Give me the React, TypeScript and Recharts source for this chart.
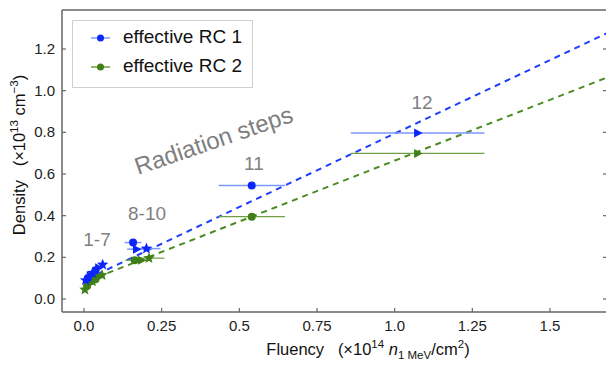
import React from "react";
import {
  ScatterChart,
  Scatter,
  XAxis,
  YAxis,
  ErrorBar,
  ReferenceLine,
  ReferenceDot,
} from "recharts";

// radiation steps 1..12
const steps = [1, 2, 3, 4, 5, 6, 7, 8, 9, 10, 11, 12];

// effective RC 1
const rc1Fluency = [0.005, 0.012, 0.02, 0.028, 0.037, 0.047, 0.06, 0.158, 0.169, 0.201, 0.54, 1.074];
const rc1Density = [0.09, 0.1, 0.112, 0.125, 0.138, 0.15, 0.165, 0.271, 0.239, 0.242, 0.545, 0.797];
const rc1FluencyErr = [0.003, 0.004, 0.005, 0.006, 0.007, 0.008, 0.01, 0.027, 0.03, 0.045, 0.107, 0.215];

// effective RC 2
const rc2Fluency = [0.003, 0.01, 0.018, 0.027, 0.037, 0.047, 0.058, 0.163, 0.185, 0.209, 0.54, 1.074];
const rc2Density = [0.045, 0.062, 0.073, 0.084, 0.095, 0.105, 0.115, 0.186, 0.186, 0.196, 0.395, 0.699];
const rc2FluencyErr = [0.003, 0.004, 0.005, 0.006, 0.007, 0.008, 0.01, 0.03, 0.03, 0.05, 0.107, 0.215];

// linear fits  density = intercept + slope * fluency
const fitSlope = [0.705, 0.584];
const fitIntercept = [0.089, 0.08];

const seriesNames = ["effective RC 1", "effective RC 2"];
const stepGroups = ["1-7", "8-10", "11", "12"];

const xTicks = [0, 0.25, 0.5, 0.75, 1, 1.25, 1.5];
const xTickLabels = ["0.0", "0.25", "0.5", "0.75", "1.0", "1.25", "1.5"];
const yTicks = [0, 0.2, 0.4, 0.6, 0.8, 1.0, 1.2];
const yTickLabels = ["0.0", "0.2", "0.4", "0.6", "0.8", "1.0", "1.2"];

const X_DOMAIN = [-0.0708, 1.6835];
const Y_DOMAIN = [-0.0624, 1.3872];

const FONT = "'Liberation Sans', Arial, Helvetica, sans-serif";
const FRAME = "#666";
const BLUE = "#0b26fa";
const BLUE_ERR = "#7e97ff";
const BLUE_FIT = "#1f3dff";
const GREEN = "#3f7f17";
const GREEN_ERR = "#6f9f45";
const GREEN_FIT = "#4b8b22";
const NOTE = "#7f7f7f";

const rc1 = steps.map((s, i) => ({ step: s, x: rc1Fluency[i], y: rc1Density[i], err: rc1FluencyErr[i] }));
const rc2 = steps.map((s, i) => ({ step: s, x: rc2Fluency[i], y: rc2Density[i], err: rc2FluencyErr[i] }));

const fitLine = (k: number) => {
  const x0 = 0.01;
  const x1 = X_DOMAIN[1];
  return [
    { x: x0, y: fitIntercept[k] + fitSlope[k] * x0 },
    { x: x1, y: fitIntercept[k] + fitSlope[k] * x1 },
  ];
};

const label = (ticks: number[], labels: string[], v: number) => labels[ticks.indexOf(v)] ?? String(v);

const BottomTick = (p: any) => (
  <g>
    <line x1={p.x} y1={p.y} x2={p.x} y2={p.y - 4} stroke={FRAME} strokeWidth={1.2} />
    <text x={p.x} y={p.y + 19} textAnchor="middle" fontSize={15} fontFamily={FONT} fill="#222">
      {label(xTicks, xTickLabels, p.payload.value)}
    </text>
  </g>
);
const TopTick = (p: any) => (
  <line x1={p.x} y1={p.y} x2={p.x} y2={p.y + 4} stroke={FRAME} strokeWidth={1.2} />
);
const LeftTick = (p: any) => (
  <g>
    <line x1={p.x} y1={p.y} x2={p.x + 4} y2={p.y} stroke={FRAME} strokeWidth={1.2} />
    <text x={p.x - 7} y={p.y + 5} textAnchor="end" fontSize={15} fontFamily={FONT} fill="#222">
      {label(yTicks, yTickLabels, p.payload.value)}
    </text>
  </g>
);
const RightTick = (p: any) => (
  <line x1={p.x} y1={p.y} x2={p.x - 4} y2={p.y} stroke={FRAME} strokeWidth={1.2} />
);

const starPath = (cx: number, cy: number, ro: number, ri: number) => {
  const pts: string[] = [];
  for (let i = 0; i < 10; i++) {
    const r = i % 2 === 0 ? ro : ri;
    const a = -Math.PI / 2 + (i * Math.PI) / 5;
    pts.push(`${cx + r * Math.cos(a)},${cy + r * Math.sin(a)}`);
  }
  return `M${pts.join("L")}Z`;
};

const marker = (color: string) => (p: any) => {
  const { cx, cy, payload } = p;
  const kind = (payload.step + 1) % 3;
  if (kind === 0) return <circle cx={cx} cy={cy} r={4} fill={color} />;
  if (kind === 1)
    return <path d={`M${cx - 3.5},${cy - 4.5}L${cx + 5},${cy}L${cx - 3.5},${cy + 4.5}Z`} fill={color} />;
  return <path d={starPath(cx, cy, 6, 2.6)} fill={color} />;
};

const note = (text: string, size: number, angle = 0) => (p: any) => (
  <text
    x={p.cx}
    y={p.cy}
    textAnchor="middle"
    fontSize={size}
    fontFamily={FONT}
    fill={NOTE}
    transform={angle ? `rotate(${angle} ${p.cx} ${p.cy})` : undefined}
  >
    {text}
  </text>
);

function LegendBox() {
  const rows = [
    { name: seriesNames[0], line: BLUE_ERR, dot: BLUE },
    { name: seriesNames[1], line: GREEN_ERR, dot: GREEN },
  ];
  return (
    <div
      style={{
        position: "absolute",
        left: 72,
        top: 20,
        width: 181,
        height: 68,
        border: "1px solid #cfcfcf",
        background: "#fff",
        boxSizing: "border-box",
      }}
    >
      {rows.map((r, i) => (
        <div key={r.name} style={{ position: "absolute", left: 0, top: 3 + i * 29, height: 28, width: 178 }}>
          <svg width={40} height={28} style={{ position: "absolute", left: 0, top: 0 }}>
            <line x1={18} y1={14} x2={37} y2={14} stroke={r.line} strokeWidth={1.5} />
            <circle cx={27.5} cy={14} r={3.5} fill={r.dot} />
          </svg>
          <span
            style={{
              position: "absolute",
              left: 50,
              top: 2,
              fontFamily: FONT,
              fontSize: 19,
              lineHeight: "22px",
              color: "#111",
              whiteSpace: "nowrap",
            }}
          >
            {r.name}
          </span>
        </div>
      ))}
    </div>
  );
}

export default function App() {
  return (
    <div style={{ position: "absolute", left: 0, top: 0, width: 606, height: 365, overflow: "hidden", background: "#fff" }}>
      <ScatterChart width={615} height={365} margin={{ top: 5, right: 3, bottom: 23, left: 22 }}>
        <XAxis
          xAxisId="b"
          type="number"
          dataKey="x"
          domain={X_DOMAIN}
          ticks={xTicks}
          allowDataOverflow
          height={30}
          tickSize={0}
          tickMargin={0}
          tickLine={false}
          tick={BottomTick}
          axisLine={{ stroke: FRAME, strokeWidth: 1.5 }}
        />
        <XAxis
          xAxisId="t"
          orientation="top"
          type="number"
          domain={X_DOMAIN}
          ticks={xTicks}
          allowDataOverflow
          height={5}
          tickSize={0}
          tickMargin={0}
          tickLine={false}
          tick={TopTick}
          axisLine={{ stroke: FRAME, strokeWidth: 1.5 }}
        />
        <YAxis
          yAxisId="l"
          type="number"
          dataKey="y"
          domain={Y_DOMAIN}
          ticks={yTicks}
          allowDataOverflow
          width={40}
          tickSize={0}
          tickMargin={0}
          tickLine={false}
          tick={LeftTick}
          axisLine={{ stroke: FRAME, strokeWidth: 1.5 }}
        />
        <YAxis
          yAxisId="r"
          orientation="right"
          type="number"
          domain={Y_DOMAIN}
          ticks={yTicks}
          allowDataOverflow
          width={5}
          tickSize={0}
          tickMargin={0}
          tickLine={false}
          tick={RightTick}
          axisLine={{ stroke: FRAME, strokeWidth: 1.5 }}
        />

        <ReferenceLine
          xAxisId="b"
          yAxisId="l"
          segment={fitLine(0)}
          stroke={BLUE_FIT}
          strokeWidth={2}
          strokeDasharray="6 5"
          ifOverflow="visible"
        />
        <ReferenceLine
          xAxisId="b"
          yAxisId="l"
          segment={fitLine(1)}
          stroke={GREEN_FIT}
          strokeWidth={2}
          strokeDasharray="6 5"
          ifOverflow="visible"
        />

        <Scatter name={seriesNames[1]} data={rc2} xAxisId="b" yAxisId="l" fill={GREEN} shape={marker(GREEN)} isAnimationActive={false}>
          <ErrorBar dataKey="err" direction="x" width={0} stroke={GREEN_ERR} strokeWidth={1.2} />
        </Scatter>
        <Scatter name={seriesNames[0]} data={rc1} xAxisId="b" yAxisId="l" fill={BLUE} shape={marker(BLUE)} isAnimationActive={false}>
          <ErrorBar dataKey="err" direction="x" width={0} stroke={BLUE_ERR} strokeWidth={1.5} />
        </Scatter>

        <ReferenceDot xAxisId="b" yAxisId="l" x={0.042} y={0.255} r={0} shape={note(stepGroups[0], 19)} ifOverflow="visible" />
        <ReferenceDot xAxisId="b" yAxisId="l" x={0.203} y={0.378} r={0} shape={note(stepGroups[1], 19)} ifOverflow="visible" />
        <ReferenceDot xAxisId="b" yAxisId="l" x={0.547} y={0.617} r={0} shape={note(stepGroups[2], 19)} ifOverflow="visible" />
        <ReferenceDot xAxisId="b" yAxisId="l" x={1.088} y={0.914} r={0} shape={note(stepGroups[3], 19)} ifOverflow="visible" />
        <ReferenceDot
          xAxisId="b"
          yAxisId="l"
          x={0.426}
          y={0.724}
          r={0}
          shape={note("Radiation steps", 24, -19)}
          ifOverflow="visible"
        />
      </ScatterChart>

      <svg width={606} height={365} style={{ position: "absolute", left: 0, top: 0, pointerEvents: "none" }}>
        <text
          x={25}
          y={155}
          textAnchor="middle"
          fontSize={16.5}
          fontFamily={FONT}
          fill="#111"
          transform="rotate(-90 25 155)"
        >
          Density{"\u00a0\u00a0\u00a0"}(×10
          <tspan dy={-7} fontSize={11.5}>13</tspan>
          <tspan dy={7}> cm</tspan>
          <tspan dy={-7} fontSize={11.5}>−3</tspan>
          <tspan dy={7}>)</tspan>
        </text>
        <text x={368} y={355} textAnchor="middle" fontSize={16.5} fontFamily={FONT} fill="#111">
          Fluency{"\u00a0\u00a0\u00a0"}(×10
          <tspan dy={-7} fontSize={11.5}>14</tspan>
          <tspan dy={7} fontStyle="italic"> n</tspan>
          <tspan dy={4} fontSize={11.5}>1 MeV</tspan>
          <tspan dy={-4}>/cm</tspan>
          <tspan dy={-7} fontSize={11.5}>2</tspan>
          <tspan dy={7}>)</tspan>
        </text>
      </svg>

      <LegendBox />
    </div>
  );
}
